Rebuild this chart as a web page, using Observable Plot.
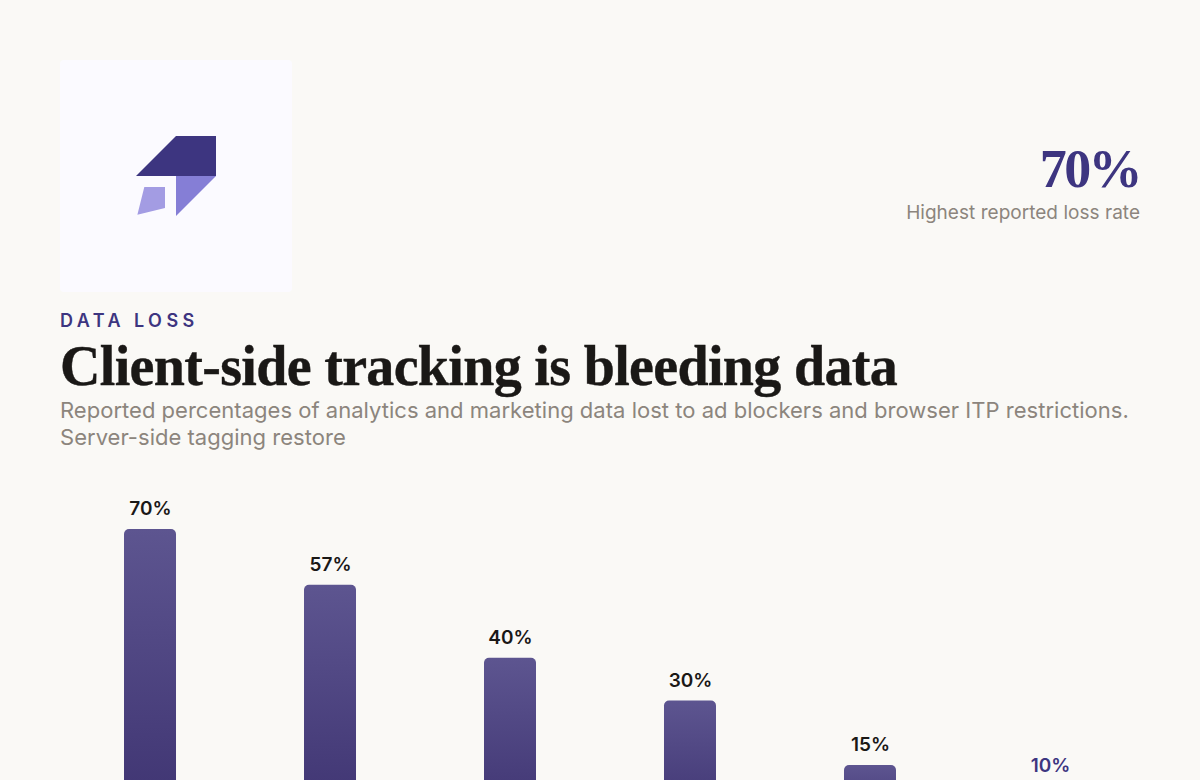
<!DOCTYPE html>
<html><head><meta charset="utf-8">
<script src="https://cdn.jsdelivr.net/npm/d3@7"></script>
<script src="https://cdn.jsdelivr.net/npm/@observablehq/plot@0.6"></script>
<style>
html,body{margin:0;padding:0;width:1200px;height:780px;overflow:hidden;background:#faf9f6;font-family:Inter,sans-serif}
#page{position:relative;width:1200px;height:780px;overflow:hidden}
#page>*{position:absolute;margin:0}
.logo{left:60px;top:60px;width:232px;height:232px}
.big{right:60px;top:134px;font:700 54px/70px "Liberation Serif",serif;color:#3d3580;letter-spacing:-2.6px}
.bigsub{right:60px;top:201px;font:400 19px/24px Inter,sans-serif;letter-spacing:.03px;color:#8c857d}
.eyebrow{left:60px;top:310px;font:600 18px/22px Inter,sans-serif;letter-spacing:4.45px;color:#3d3580}
h1{left:60px;top:334px;font:700 56px/64px "Liberation Serif",serif;letter-spacing:-.67px;-webkit-text-stroke:.4px #1a1816;color:#1a1816;white-space:nowrap}
.sub{left:60px;top:397px;width:1090px;font:400 22px/27px Inter,sans-serif;letter-spacing:.02px;color:#8c857d}
#chart{left:0;top:480px}
</style></head><body>
<div id="page">
<svg class="logo" viewBox="0 0 232 232"><rect width="232" height="232" rx="4" fill="#fbfaff"/>
<polygon points="76,116 116,76 156,76 156,116" fill="#3d3580"/>
<polygon points="116,116 156,116 116,156" fill="#857ed6"/>
<polygon points="84.3,127 105,127 105,148 77.4,154.7" fill="#a39ce3"/></svg>
<div class="big">70%</div>
<div class="bigsub">Highest reported loss rate</div>
<div class="eyebrow">DATA LOSS</div>
<h1>Client-side tracking is bleeding data</h1>
<p class="sub">Reported percentages of analytics and marketing data lost to ad blockers and browser ITP restrictions. Server-side tagging restore</p>
<div id="chart"></div>
</div>
<script>
const ranks = ["1","2","3","4","5","6"];
const values = [70,57,40,30,15,10];
const labels = ["70%","57%","40%","30%","15%","10%"];
const labelColors = ["#1a1816","#1a1816","#1a1816","#1a1816","#1a1816","#3d3580"];
const rows = ranks.map((r,i)=>({r,v:values[i],label:labels[i],color:labelColors[i]}));
const gradient = () => {
  const s = d3.create("svg:defs");
  const g = s.append("linearGradient").attr("id","barGrad").attr("x1",0).attr("y1",0).attr("x2",0).attr("y2",1);
  g.append("stop").attr("offset","0%").attr("stop-color","#5d5590");
  g.append("stop").attr("offset","100%").attr("stop-color","#3d3270");
  return s.node();
};
const chart = Plot.plot({
  width:1200,height:400,marginLeft:60,marginRight:60,marginTop:49,marginBottom:50.7,
  style:{background:"transparent"},
  x:{domain:ranks,axis:null,paddingInner:0.7111,paddingOuter:0.3556,round:false},
  y:{domain:[0,70],axis:null,nice:false},
  marks:[
    gradient,
    Plot.barY(rows,{x:"r",y:"v",fill:"url(#barGrad)",rx:5}),
    Plot.text(rows,{x:"r",y:"v",text:"label",dy:-20.5,fill:"color",fontSize:19,fontWeight:600,fontFamily:"Inter"})
  ]
});
document.getElementById("chart").append(chart);
</script>
</body></html>
